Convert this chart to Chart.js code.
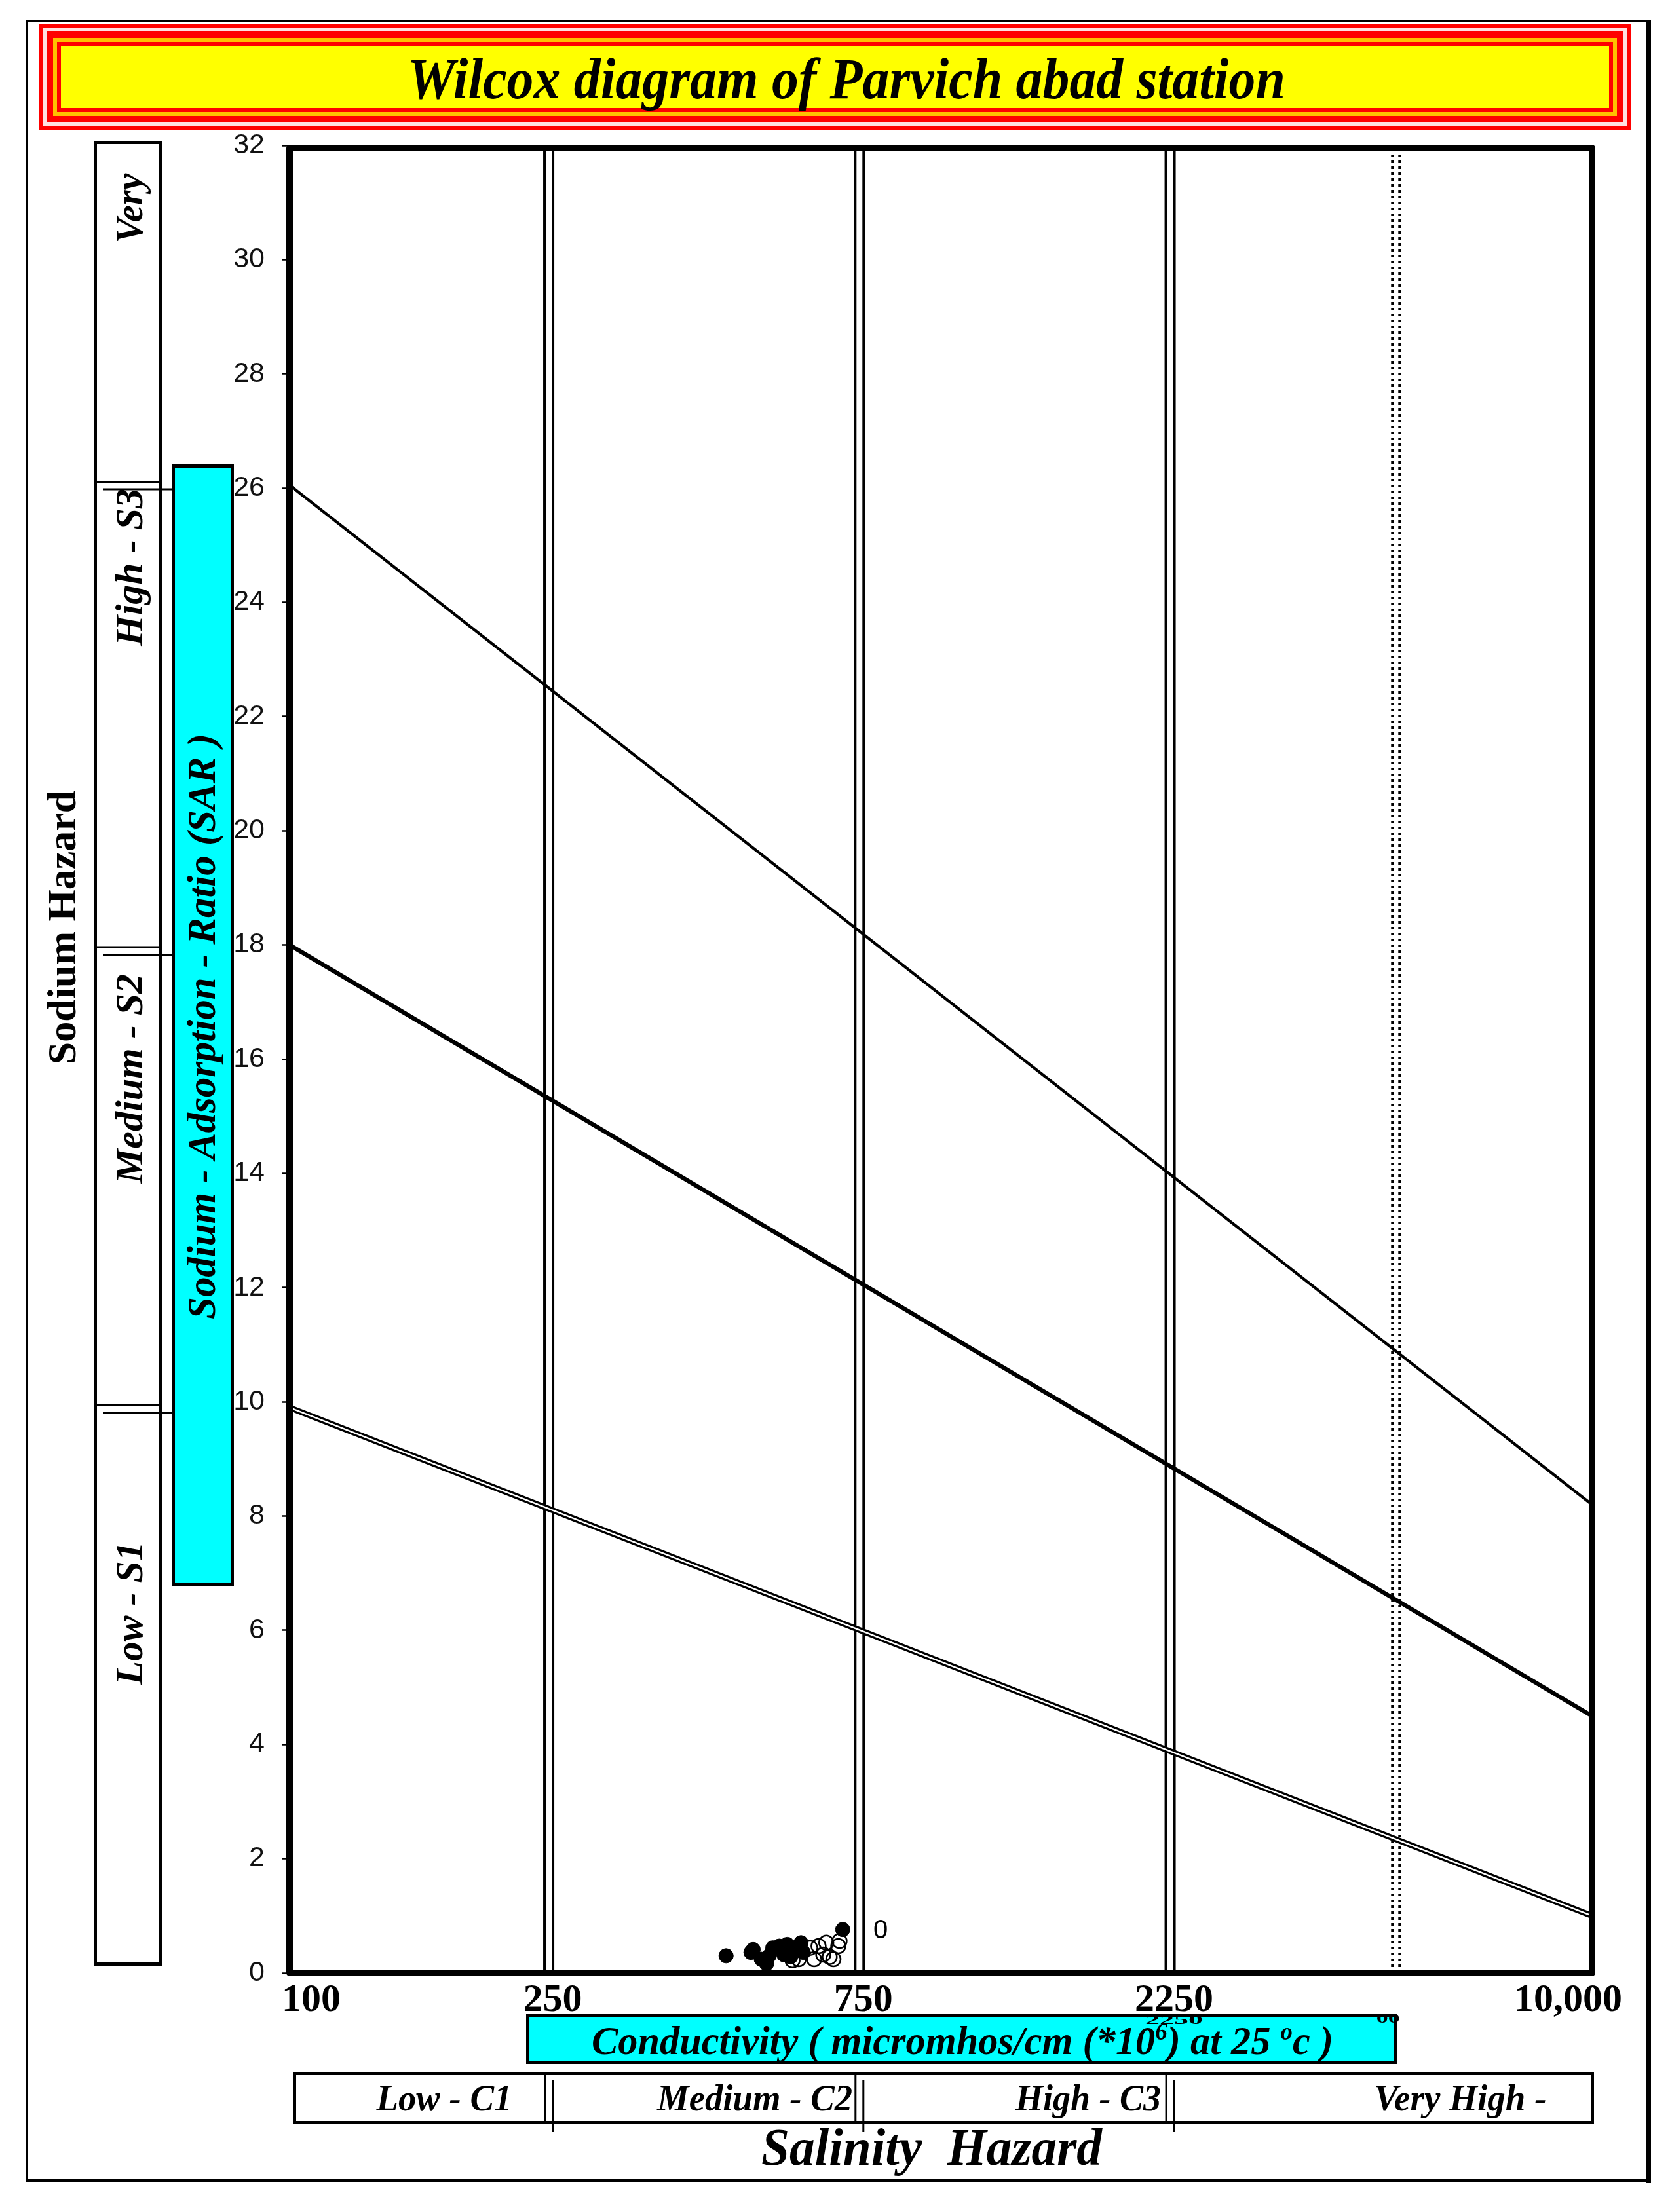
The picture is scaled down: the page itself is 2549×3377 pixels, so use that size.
<!DOCTYPE html>
<html><head><meta charset="utf-8">
<script src="https://cdn.jsdelivr.net/npm/chart.js@4.4.1/dist/chart.umd.min.js"></script>
<style>html,body{margin:0;padding:0;background:#fff;}canvas{display:block;}</style>
</head><body>
<canvas id="c" width="2549" height="3377"></canvas>
<script>
// ---- texts ----
const titleText = 'Wilcox diagram of Parvich abad station';
const yAxisTitle = 'Sodium - Adsorption - Ratio (SAR )';
const sideTitle = 'Sodium Hazard';
const bottomTitle = 'Salinity  Hazard';
const sodiumClasses = ['Very', 'High - S3', 'Medium - S2', 'Low - S1'];
const salinityClasses = ['Low - C1', 'Medium - C2', 'High - C3', 'Very High -'];
const xTitleParts = [['Conductivity ( micromhos/cm (*10', false], ['6', true], [') at 25 ', false], ['o', true], ['c )', false]];

// ---- axes ----
const xTickValues = [100, 250, 750, 2250, 10000];
const xTickLabels = ['100', '250', '750', '2250', '10,000'];
const salinityBounds = [250, 750, 2250];
const dottedBound = [5000];

// ---- SAR boundary lines (EC, SAR) ----
const sarLine1 = [[100, 9.9], [10000, 1.0]];
const sarLine2 = [[100, 18.0], [10000, 4.5]];
const sarLine3 = [[100, 26.05], [10000, 8.2]];

// ---- samples ----
const filledEC  = [468, 511, 515, 530, 540, 545, 552, 565, 574, 581, 588, 594, 600, 610, 615, 707];
const filledSAR = [0.30, 0.36, 0.41, 0.24, 0.16, 0.30, 0.44, 0.47, 0.32, 0.50, 0.28, 0.39, 0.45, 0.53, 0.36, 0.76];
const openEC  = [592, 605, 630, 639, 649, 660, 667, 675, 684, 696, 699];
const openSAR = [0.22, 0.24, 0.44, 0.24, 0.47, 0.32, 0.53, 0.28, 0.24, 0.47, 0.56];
const strayLabel = '0';

const toXY = a => a.map(p => ({x: p[0], y: p[1]}));
const vline = v => [{x: v, y: 0}, {x: v, y: 32}];
const lineDs = (data, color, width, order, dash) => ({
  data, showLine: true, pointRadius: 0, borderColor: color, borderWidth: width,
  borderDash: dash || [], order, fill: false, tension: 0
});

const datasets = [];
datasets.push({data: openEC.map((x, i) => ({x, y: openSAR[i]})), pointRadius: 11, pointBackgroundColor: 'rgba(0,0,0,0)',
  pointBorderColor: '#000', pointBorderWidth: 2.5, showLine: false, order: 0});
datasets.push({data: filledEC.map((x, i) => ({x, y: filledSAR[i]})), pointRadius: 11, pointBackgroundColor: '#000',
  pointBorderColor: '#000', pointBorderWidth: 1, showLine: false, order: 1});
datasets.push(lineDs(toXY(sarLine3), '#000', 4.5, 2));
datasets.push(lineDs(toXY(sarLine2), '#000', 6.5, 2));
datasets.push(lineDs(toXY(sarLine1), '#fff', 2.5, 2));
datasets.push(lineDs(toXY(sarLine1), '#000', 9, 3));
salinityBounds.forEach(v => {
  datasets.push(lineDs(vline(v), '#fff', 9, 4));
  datasets.push(lineDs(vline(v), '#000', 17, 5));
});
dottedBound.forEach(v => {
  datasets.push(lineDs(vline(v), '#fff', 7, 4));
  datasets.push(lineDs(vline(v), '#000', 15, 5, [4, 5]));
});

const SERIF = '"Liberation Serif", "Times New Roman", serif';

function rot(ctx, text, cx, cy, font, maxW) {
  ctx.save();
  ctx.translate(cx, cy);
  ctx.rotate(-Math.PI / 2);
  ctx.font = font; ctx.textAlign = 'center'; ctx.textBaseline = 'middle';
  ctx.fillText(text, 0, 0, maxW);
  ctx.restore();
}

function rich(ctx, parts, cx, baseline, size, targetW) {
  const main = 'italic bold ' + size + 'px ' + SERIF;
  const sup = 'italic bold ' + Math.round(size * 0.62) + 'px ' + SERIF;
  let total = 0; const ws = [];
  parts.forEach(([t, s]) => { ctx.font = s ? sup : main; const w = ctx.measureText(t).width; ws.push(w); total += w; });
  ctx.save();
  ctx.translate(cx - targetW / 2, baseline);
  ctx.scale(targetW / total, 1);
  ctx.textAlign = 'left'; ctx.textBaseline = 'alphabetic';
  let x = 0;
  parts.forEach(([t, s], i) => { ctx.font = s ? sup : main; ctx.fillText(t, x, s ? -size * 0.36 : 0); x += ws[i]; });
  ctx.restore();
}

const decor = {
  id: 'decor',
  beforeDraw(chart) {
    const ctx = chart.ctx; const xs = chart.scales.x;
    ctx.save();
    ctx.fillStyle = '#fff'; ctx.fillRect(0, 0, chart.width, chart.height);

    // outer frame
    ctx.strokeStyle = '#000';
    ctx.lineWidth = 3; ctx.beginPath(); ctx.moveTo(40, 31.5); ctx.lineTo(2519, 31.5); ctx.moveTo(41.5, 30); ctx.lineTo(41.5, 3331); ctx.stroke();
    ctx.lineWidth = 4; ctx.beginPath(); ctx.moveTo(40, 3329); ctx.lineTo(2520, 3329); ctx.stroke();
    ctx.lineWidth = 7; ctx.beginPath(); ctx.moveTo(2516.5, 30); ctx.lineTo(2516.5, 3332); ctx.stroke();

    // title box
    const L = 60, T = 37, R = 2489, B = 198;
    [[0, '#ff0000'], [5, '#ffe0e0'], [11, '#ff0000'], [21, '#ffc000'], [27, '#ff0000'], [33, '#ffff00']]
      .forEach(([d, c]) => { ctx.fillStyle = c; ctx.fillRect(L + d, T + d, R - L - 2 * d, B - T - 2 * d); });
    ctx.fillStyle = '#000';
    ctx.font = 'italic bold 88px ' + SERIF; ctx.textAlign = 'center'; ctx.textBaseline = 'alphabetic';
    ctx.fillText(titleText, 1292, 150, 1340);

    // Sodium Hazard side label
    rot(ctx, sideTitle, 99, 1416, 'bold 62px ' + SERIF, 422);

    // sodium class column
    ctx.strokeStyle = '#000'; ctx.lineWidth = 5;
    ctx.strokeRect(145.5, 217.5, 100, 2781);
    ctx.lineWidth = 3;
    ctx.beginPath();
    [736, 1446, 2145].forEach(y => { ctx.moveTo(145, y); ctx.lineTo(247, y); });
    [747, 1458, 2157].forEach(y => { ctx.moveTo(157, y); ctx.lineTo(264, y); });
    ctx.stroke();
    const sFont = 'italic bold 60px ' + SERIF;
    rot(ctx, sodiumClasses[0], 201, 318, sFont, 107);
    rot(ctx, sodiumClasses[1], 201, 866, sFont, 240);
    rot(ctx, sodiumClasses[2], 201, 1647, sFont, 321);
    rot(ctx, sodiumClasses[3], 201, 2463, sFont, 219);

    // cyan SAR box
    ctx.fillStyle = '#00ffff'; ctx.fillRect(262, 709, 95, 1713);
    ctx.lineWidth = 5; ctx.strokeRect(264.5, 711.5, 90, 1708);
    ctx.fillStyle = '#000';
    rot(ctx, yAxisTitle, 312, 1567, 'italic bold 62px ' + SERIF, 894);

    // x tick labels
    ctx.font = 'bold 60px ' + SERIF; ctx.textBaseline = 'alphabetic';
    xTickValues.forEach((v, i) => {
      const p = xs.getPixelForValue(v);
      if (i === 0) { ctx.textAlign = 'left'; ctx.fillText(xTickLabels[i], p - 12, 3070); }
      else if (i === xTickValues.length - 1) { ctx.textAlign = 'right'; ctx.fillText(xTickLabels[i], p + 46, 3070); }
      else { ctx.textAlign = 'center'; ctx.fillText(xTickLabels[i], p + 6, 3070); }
    });

    // conductivity box
    ctx.fillStyle = '#00ffff'; ctx.fillRect(803, 3075, 1330, 76);
    ctx.strokeStyle = '#000'; ctx.lineWidth = 5; ctx.strokeRect(805.5, 3077.5, 1325, 71);
    ctx.fillStyle = '#000';
    rich(ctx, xTitleParts, 1469, 3136, 62, 1132);
    // stray squashed labels overlapping the box edge
    ctx.save(); ctx.translate(xs.getPixelForValue(2250) + 6, 3090); ctx.scale(1, 0.45);
    ctx.font = 'bold 44px ' + SERIF; ctx.textAlign = 'center'; ctx.fillText('2250', 0, 0, 97); ctx.restore();
    ctx.save(); ctx.translate(xs.getPixelForValue(5000) - 12, 3088); ctx.scale(1, 0.5);
    ctx.font = 'bold 36px ' + SERIF; ctx.textAlign = 'center'; ctx.fillText('00', 0, 0); ctx.restore();

    // salinity class box
    ctx.lineWidth = 5; ctx.strokeRect(449.5, 3165.5, 1981, 75);
    ctx.lineWidth = 3; ctx.beginPath();
    salinityBounds.forEach(v => {
      const p = xs.getPixelForValue(v);
      ctx.moveTo(p - 6, 3164); ctx.lineTo(p - 6, 3242);
      ctx.moveTo(p + 6, 3176); ctx.lineTo(p + 6, 3255);
    });
    ctx.stroke();
    ctx.font = 'italic bold 58px ' + SERIF; ctx.textAlign = 'center';
    const cx = [678, 1152, 1661, 2229], cw = [207, 298, 222, 263];
    salinityClasses.forEach((t, i) => ctx.fillText(t, cx[i], 3222, cw[i]));

    ctx.font = 'italic bold 80px ' + SERIF;
    ctx.fillText(bottomTitle, 1422, 3305, 520);
    ctx.restore();
  },
  afterDatasetsDraw(chart) {
    const ctx = chart.ctx; const a = chart.chartArea;
    ctx.save();
    ctx.strokeStyle = '#000'; ctx.lineWidth = 10; ctx.lineJoin = 'round';
    ctx.strokeRect(a.left, a.top + 4, a.right - a.left, a.bottom - a.top - 4);
    ctx.fillStyle = '#000'; ctx.font = '40px "Liberation Sans", Arial, sans-serif';
    ctx.textAlign = 'center'; ctx.textBaseline = 'middle';
    ctx.fillText(strayLabel, 1344, 2948);
    ctx.restore();
  }
};

const chart = new Chart(document.getElementById('c'), {
  type: 'scatter',
  data: {datasets},
  options: {
    responsive: false, animation: false, devicePixelRatio: 1,
    layout: {padding: {left: 282, right: 119, top: 222, bottom: 365}},
    plugins: {legend: {display: false}, tooltip: {enabled: false}},
    scales: {
      x: {type: 'logarithmic', min: 100, max: 10000, display: false},
      y: {
        type: 'linear', min: 0, max: 32,
        afterFit(s) { s.width = 160; },
        ticks: {stepSize: 2, font: {family: 'Liberation Sans', size: 43}, color: '#111', padding: 26},
        grid: {drawOnChartArea: false, drawTicks: true, tickLength: 12, tickColor: '#000', tickWidth: 2.5},
        border: {display: false}
      }
    }
  },
  plugins: [decor]
});
</script>
</body></html>
